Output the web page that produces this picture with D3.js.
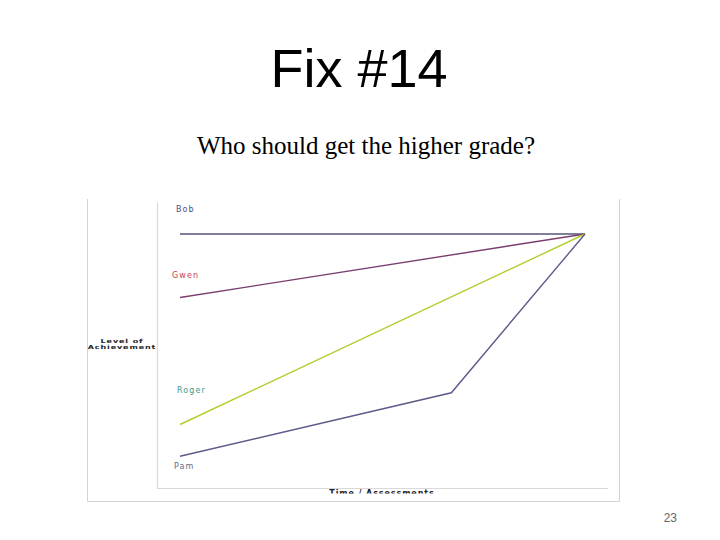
<!DOCTYPE html>
<html>
<head>
<meta charset="utf-8">
<script src="https://cdn.jsdelivr.net/npm/d3@7"></script>
<style>
  html, body { margin: 0; padding: 0; background: #fff; }
  svg { display: block; }
</style>
</head>
<body>
<div id="chart"></div>
<script>
// --- Data ---
const seriesNames = ['Bob', 'Gwen', 'Roger', 'Pam'];
const bobValues   = [[0, 100], [10, 100]];
const gwenValues  = [[0, 75], [10, 100]];
const rogerValues = [[0, 25], [10, 100]];
const pamValues   = [[0, 12.5], [6.7, 37.5], [10, 100]];
const seriesValues = [bobValues, gwenValues, rogerValues, pamValues];

const titleText = 'Fix #14';
const subtitleText = 'Who should get the higher grade?';
const yAxisLabel = ['Level of', 'Achievement'];
const xAxisLabel = 'Time / Assessments';
const pageNumber = '23';

// --- Styles ---
const lineColors  = ['#55557a', '#7a3d6e', '#b4cc2e', '#5c5c8c'];
const labelColors = ['#4d4d8a', '#c2404e', '#3f9a86', '#6a6a8a'];
const labelOffsets = [-22, -20, -32, 13];   // px from each line's start point
const labelDx = [-4, -8, -3, -6];

const width = 720, height = 540;

const svg = d3.select('#chart').append('svg')
    .attr('width', width)
    .attr('height', height);

// Title + subtitle
svg.append('text')
    .attr('x', 359).attr('y', 87)
    .attr('text-anchor', 'middle')
    .style('font-family', 'Liberation Sans, Arial, sans-serif')
    .style('font-size', '54px')
    .attr('fill', '#000')
    .text(titleText);

svg.append('text')
    .attr('x', 366).attr('y', 154)
    .attr('text-anchor', 'middle')
    .style('font-family', 'Liberation Serif, Times New Roman, serif')
    .style('font-size', '25px')
    .attr('fill', '#000')
    .text(subtitleText);

// Outer picture frame (no top edge)
svg.append('path')
    .attr('d', 'M87.5,199V501.5H619.5V199')
    .attr('fill', 'none')
    .attr('stroke', '#d4d4d4')
    .attr('stroke-width', 1);

// Inner plot frame
const inner = { left: 157.5, top: 203, right: 608, bottom: 488.5 };
svg.append('path')
    .attr('d', `M${inner.left},${inner.top}V${inner.bottom}H${inner.right}`)
    .attr('fill', 'none')
    .attr('stroke', '#d9d9d9')
    .attr('stroke-width', 1.2);

// Scales
const x = d3.scaleLinear().domain([0, 10]).range([180, 585]);
const y = d3.scaleLinear().domain([0, 100]).range([488, 234]);

const line = d3.line()
    .x(d => x(d[0]))
    .y(d => y(d[1]));

// Lines
svg.append('g')
    .selectAll('path')
    .data(seriesValues)
    .join('path')
    .attr('d', line)
    .attr('fill', 'none')
    .attr('stroke', (d, i) => lineColors[i])
    .attr('stroke-width', 1.4)
    .attr('stroke-linejoin', 'miter');

// Series labels
svg.append('g')
    .selectAll('text')
    .data(seriesValues)
    .join('text')
    .attr('x', (d, i) => x(d[0][0]) + labelDx[i])
    .attr('y', (d, i) => y(d[0][1]) + labelOffsets[i])
    .style('font-family', 'DejaVu Sans, Verdana, sans-serif')
    .style('font-size', '8px')
    .style('letter-spacing', '1.1px')
    .attr('fill', (d, i) => labelColors[i])
    .text((d, i) => seriesNames[i]);

// Y axis label (squished, bold)
const yl = svg.append('g')
    .attr('transform', 'translate(122,343) scale(1,0.7)');
yl.selectAll('text')
    .data(yAxisLabel)
    .join('text')
    .attr('x', 0)
    .attr('y', (d, i) => i * 9)
    .attr('text-anchor', 'middle')
    .style('font-family', 'DejaVu Sans, Verdana, sans-serif')
    .style('font-size', '8px')
    .style('font-weight', 'bold')
    .style('letter-spacing', '0.9px')
    .attr('fill', '#222')
    .text(d => d);

// X axis label, cut off at the bottom as in the picture
svg.append('clipPath').attr('id', 'xclip')
    .append('rect')
    .attr('x', 300).attr('y', 489).attr('width', 200).attr('height', 4.5);

svg.append('text')
    .attr('clip-path', 'url(#xclip)')
    .attr('x', 382).attr('y', 496)
    .attr('text-anchor', 'middle')
    .style('font-family', 'DejaVu Sans, Verdana, sans-serif')
    .style('font-size', '8px')
    .style('font-weight', 'bold')
    .style('letter-spacing', '0.9px')
    .attr('fill', '#222')
    .text(xAxisLabel);

// Page number
svg.append('text')
    .attr('x', 677).attr('y', 522)
    .attr('text-anchor', 'end')
    .style('font-family', 'Liberation Sans, Arial, sans-serif')
    .style('font-size', '12px')
    .attr('fill', '#666')
    .text(pageNumber);
</script>
</body>
</html>
